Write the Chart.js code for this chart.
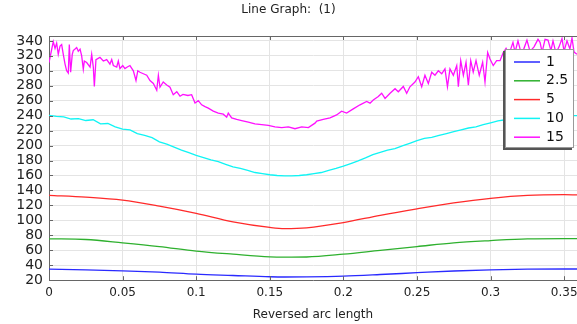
<!DOCTYPE html>
<html>
<head>
<meta charset="utf-8">
<script src="https://cdn.jsdelivr.net/npm/chart.js"></script>
<style>
  html, body { margin: 0; padding: 0; background: #fff; }
</style>
</head>
<body>
<canvas id="chart" width="577" height="324"></canvas>
<script>
const FONT = 'DejaVu Sans';

const seriesNames = ['1', '2.5', '5', '10', '15'];
const seriesColors = ['#2a2aff', '#2eb02e', '#ff2a2a', '#10f4f4', '#ff10ff'];

const xMin = 0;
const xMax = 0.3587;
const yMin = 20;
const yMax = 346.5;

// smooth curves
const smoothX = [0, 0.025, 0.05, 0.075, 0.1, 0.125, 0.15, 0.16, 0.175, 0.2, 0.225, 0.25, 0.275, 0.3, 0.325, 0.35, 0.3587];
const values1 = [34.7, 33.8, 32.5, 30.7, 28, 26.3, 24.6, 24.3, 24.5, 25.5, 27.6, 30, 32.3, 33.8, 34.7, 35, 35];
const values25 = [75.3, 74.4, 70, 65, 59, 54.8, 51.2, 50.8, 51, 54.8, 60, 65, 70, 73, 75.3, 75.7, 75.7];
const values5 = [133.4, 131, 127, 119, 109.4, 98, 90.6, 89, 90, 97, 106.8, 115.5, 123.4, 129.5, 133.4, 134.3, 134];

// 10
const cyanX = [0, 0.005, 0.01, 0.015, 0.02, 0.025, 0.03, 0.035, 0.04, 0.045, 0.05, 0.055, 0.06, 0.065, 0.07, 0.075,
  0.08, 0.085, 0.09, 0.095, 0.1, 0.105, 0.11, 0.115, 0.12, 0.125, 0.13, 0.135, 0.14, 0.145, 0.15, 0.155, 0.16,
  0.165, 0.17, 0.175, 0.18, 0.185, 0.19, 0.195, 0.2, 0.205, 0.21, 0.215, 0.22, 0.225, 0.23, 0.235, 0.24, 0.245,
  0.25, 0.255, 0.26, 0.265, 0.27, 0.275, 0.28, 0.285, 0.29, 0.295, 0.3, 0.305, 0.31, 0.315, 0.32, 0.325, 0.33,
  0.335, 0.34, 0.345, 0.35, 0.355, 0.3587];
const values10 = [240.5, 239, 238.5, 235.5, 236, 233.5, 234.5, 229, 229.5, 225, 222, 221, 216, 213.5, 210.5, 205,
  202, 198, 194, 190.5, 187, 184, 181, 178.5, 175, 171.5, 169.5, 167, 164, 162.5, 161, 160, 159.5,
  159.5, 160, 161, 162.5, 164, 167, 169.5, 172.5, 176, 179.5, 183.5, 188, 191, 194, 196, 199.5, 203,
  206.5, 209.5, 211, 213.5, 216, 218.5, 221, 223.5, 225, 228, 230.5, 233, 234.5, 235.5, 236.5, 237, 237.5,
  238, 238.5, 239, 239.5, 240, 240];

// 15
const magX = [0, 0.0029, 0.0041, 0.0052, 0.0063, 0.0075, 0.0086, 0.0097, 0.0109, 0.012, 0.0131, 0.0138, 0.0147,
  0.0158, 0.0165, 0.0177, 0.0188, 0.0199, 0.0211, 0.0222, 0.0233, 0.024, 0.0256, 0.0279, 0.029, 0.0301, 0.0308,
  0.0319, 0.0346, 0.0369, 0.0392, 0.0414, 0.0426, 0.0437, 0.046, 0.0471, 0.0482, 0.0501, 0.0516, 0.0532, 0.055,
  0.0573, 0.0591, 0.0603, 0.0618, 0.0641, 0.0664, 0.0686, 0.0709, 0.0732, 0.0743, 0.0754, 0.0776, 0.08, 0.0822,
  0.0844, 0.0868, 0.089, 0.091, 0.0944, 0.0969, 0.0992, 0.1014, 0.1037, 0.106, 0.1082, 0.1116, 0.115, 0.1184,
  0.1207, 0.1218, 0.1241, 0.1275, 0.1309, 0.1354, 0.1399, 0.1445, 0.149, 0.1535, 0.1581, 0.1626, 0.1671, 0.1717,
  0.1762, 0.1807, 0.1819, 0.1863, 0.1909, 0.1954, 0.1988, 0.2022, 0.2067, 0.2113, 0.2158, 0.2181, 0.2203, 0.2237,
  0.226, 0.2283, 0.2317, 0.2351, 0.2373, 0.2407, 0.243, 0.2452, 0.2486, 0.2509, 0.2532, 0.2554, 0.2577, 0.26,
  0.2622, 0.2645, 0.2668, 0.269, 0.2707, 0.2724, 0.2747, 0.277, 0.2781, 0.2797, 0.2815, 0.2833, 0.2849, 0.2865,
  0.2882, 0.2901, 0.2923, 0.2946, 0.2962, 0.298, 0.2996, 0.3018, 0.3041, 0.3064, 0.3086, 0.3105, 0.3125, 0.3152,
  0.3166, 0.3186, 0.3207, 0.3227, 0.3247, 0.3268, 0.3295, 0.3322, 0.3336, 0.335, 0.337, 0.339, 0.341, 0.3424,
  0.3444, 0.3465, 0.3485, 0.3499, 0.3519, 0.3539, 0.3553, 0.3567, 0.3587];
const values15 = [311, 339, 330, 337, 322, 333, 335, 322, 309, 300, 297, 335, 298,
  322, 327, 329, 331, 326, 329, 320, 302, 313, 311, 305, 322, 305, 279,
  315, 318, 313, 315, 309, 315, 307, 305, 313, 303, 307, 303, 305, 307,
  300, 287, 300, 298, 296, 294, 287, 283, 274, 294, 278, 285, 281, 278,
  268, 272, 266, 268.5, 267, 268, 257, 260, 254.5, 252, 250, 246, 243.5, 242,
  238, 243.5, 237, 235, 233.5, 231.5, 229, 228, 227, 225, 224, 225, 222.5, 225,
  224, 230, 232.7, 235, 237, 241, 246, 243.5, 249, 254.5, 259, 256.7, 261, 265.5,
  270, 263, 270, 276, 272, 279, 270, 278.6, 285, 292, 278.6, 294, 283, 298,
  294, 300, 296, 302.6, 278.6, 302.6, 294, 307, 278.6, 313.5, 294, 311.4, 280.7, 313.5,
  298.3, 313.5, 294, 311.4, 285, 324.5, 315.7, 307, 313.5, 313.5, 324.5, 330, 322, 338,
  325, 340, 324, 330, 341, 326, 332, 342, 338, 325, 342, 341, 327, 340,
  324, 332, 343, 326, 340, 329, 344, 325, 322];

const xTickStep = 0.05;
const yTickStep = 20;

function pairs(xs, ys) {
  return xs.map((x, i) => ({ x: x, y: ys[i] }));
}

const seriesData = [
  pairs(smoothX, values1),
  pairs(smoothX, values25),
  pairs(smoothX, values5),
  pairs(cyanX, values10),
  pairs(magX, values15)
];

const frameTicks = {
  id: 'frameTicks',
  afterDraw(chart) {
    const { ctx, chartArea: a, scales: { x, y } } = chart;
    ctx.save();
    ctx.strokeStyle = '#666';
    ctx.lineWidth = 1;
    ctx.beginPath();
    ctx.moveTo(a.left, a.top + 0.5);
    ctx.lineTo(a.right, a.top + 0.5);
    x.ticks.forEach(t => {
      const px = Math.round(x.getPixelForValue(t.value)) + 0.5;
      ctx.moveTo(px, a.bottom);
      ctx.lineTo(px, a.bottom - 4);
      ctx.moveTo(px, a.top);
      ctx.lineTo(px, a.top + 4);
    });
    y.ticks.forEach(t => {
      const py = Math.round(y.getPixelForValue(t.value)) + 0.5;
      ctx.moveTo(a.left, py);
      ctx.lineTo(a.left + 4, py);
    });
    ctx.stroke();
    ctx.restore();
  }
};

const legendBox = {
  id: 'legendBox',
  afterDatasetsDraw(chart) {
    const { ctx, chartArea: a } = chart;
    const bx = a.right - 72, by = a.top + 13, bw = 69, bh = 99;
    ctx.save();
    ctx.fillStyle = '#555';
    ctx.fillRect(bx - 2, by + 2, bw, bh);
    ctx.fillStyle = '#fff';
    ctx.fillRect(bx, by, bw, bh);
    ctx.strokeStyle = '#999';
    ctx.lineWidth = 1;
    ctx.strokeRect(bx + 0.5, by + 0.5, bw - 1, bh - 1);
    ctx.font = '14px "' + FONT + '"';
    ctx.textBaseline = 'middle';
    ctx.fillStyle = '#111';
    chart.data.datasets.forEach((ds, i) => {
      const ry = by + 13 + i * 18.8;
      ctx.strokeStyle = ds.borderColor;
      ctx.lineWidth = 1.5;
      ctx.beginPath();
      ctx.moveTo(bx + 9, ry);
      ctx.lineTo(bx + 35, ry);
      ctx.stroke();
      ctx.fillText(ds.label, bx + 41, ry);
    });
    ctx.restore();
  }
};

new Chart(document.getElementById('chart'), {
  type: 'line',
  data: {
    datasets: seriesData.map((d, i) => ({
      label: seriesNames[i],
      data: d,
      borderColor: seriesColors[i],
      borderWidth: 1.3,
      pointRadius: 0,
      fill: false,
      tension: 0,
      cubicInterpolationMode: i < 3 ? 'monotone' : 'default'
    }))
  },
  options: {
    responsive: false,
    animation: false,
    layout: { padding: 0 },
    plugins: {
      legend: { display: false },
      tooltip: { enabled: false },
      title: {
        display: true,
        text: 'Line Graph:  (1)',
        color: '#222',
        font: { family: FONT, size: 12, weight: 'normal' },
        padding: { top: 3, bottom: 18.6 }
      }
    },
    scales: {
      x: {
        type: 'linear',
        min: xMin,
        max: xMax,
        border: { display: true, color: '#666', width: 1 },
        grid: { color: '#e4e4e4', lineWidth: 1, drawTicks: false },
        ticks: {
          stepSize: xTickStep,
          includeBounds: false,
          autoSkip: false,
          maxRotation: 0,
          padding: 5,
          color: '#222',
          font: { family: FONT, size: 12 },
          callback: v => String(Number(v.toFixed(3)))
        },
        title: {
          display: true,
          text: 'Reversed arc length',
          color: '#222',
          font: { family: FONT, size: 12 },
          padding: { top: 3, bottom: 2 }
        },
        afterFit: s => { s.paddingRight = 0; s.paddingLeft = 0; }
      },
      y: {
        type: 'linear',
        min: yMin,
        max: yMax,
        border: { display: true, color: '#666', width: 1 },
        grid: { color: '#e4e4e4', lineWidth: 1, drawTicks: false },
        ticks: {
          stepSize: yTickStep,
          includeBounds: false,
          autoSkip: false,
          padding: 6,
          color: '#222',
          font: { family: FONT, size: 14 }
        },
        afterFit: s => { s.width = 49; }
      }
    }
  },
  plugins: [frameTicks, legendBox]
});
</script>
</body>
</html>
